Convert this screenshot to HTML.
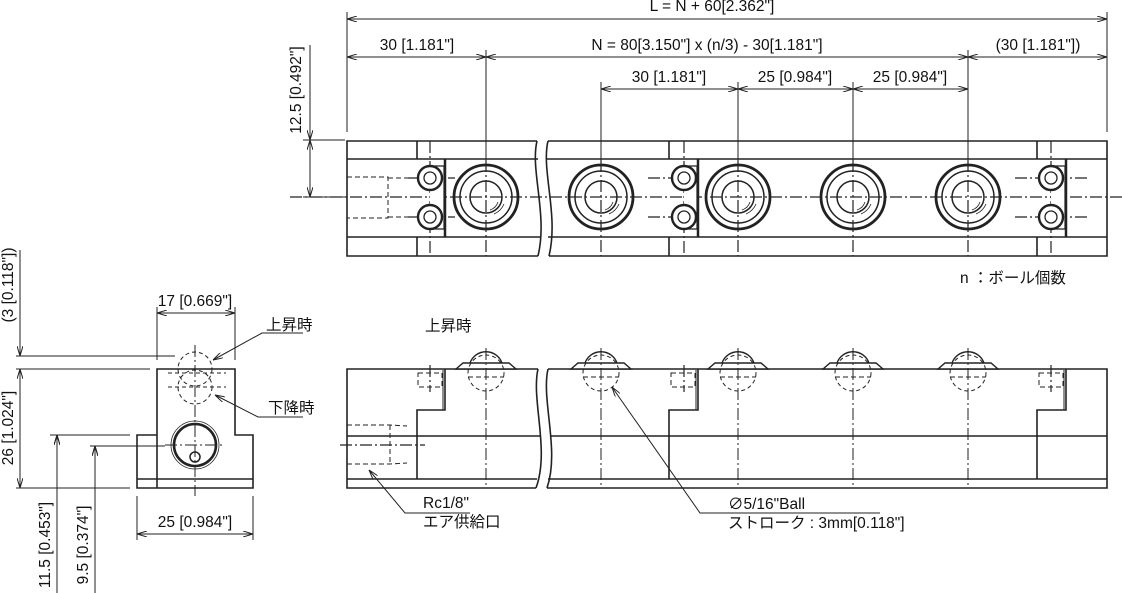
<!DOCTYPE html>
<html><head><meta charset="utf-8"><style>
html,body{margin:0;padding:0;background:#fff;width:1122px;height:593px;overflow:hidden}
svg{display:block}
text{font-family:"Liberation Sans","Noto Sans CJK JP",sans-serif;font-size:15.5px;fill:#111}
</style></head><body>
<svg width="1122" height="593" viewBox="0 0 1122 593" xmlns="http://www.w3.org/2000/svg">
<defs>
<marker id="a" viewBox="0 0 10 6" refX="10" refY="3" markerWidth="10" markerHeight="6" orient="auto-start-reverse" markerUnits="userSpaceOnUse">
<path d="M0,0 L10,3 L0,6" fill="none" stroke="#222" stroke-width="1"/></marker>
</defs>
<g stroke="#222" fill="none" stroke-width="1">
<line x1="347" y1="12" x2="347" y2="132"/><line x1="1107" y1="12" x2="1107" y2="132"/>
<line x1="486" y1="50" x2="486" y2="160"/><line x1="968" y1="50" x2="968" y2="160"/>
<line x1="601" y1="82" x2="601" y2="160"/><line x1="738" y1="82" x2="738" y2="160"/><line x1="853" y1="82" x2="853" y2="160"/>
<line x1="347" y1="19" x2="1107" y2="19" marker-start="url(#a)" marker-end="url(#a)"/>
<line x1="347" y1="57" x2="486" y2="57" marker-start="url(#a)" marker-end="url(#a)"/>
<line x1="486" y1="57" x2="968" y2="57" marker-start="url(#a)" marker-end="url(#a)"/>
<line x1="968" y1="57" x2="1107" y2="57" marker-start="url(#a)" marker-end="url(#a)"/>
<line x1="601" y1="89" x2="738" y2="89" marker-start="url(#a)" marker-end="url(#a)"/>
<line x1="738" y1="89" x2="853" y2="89" marker-start="url(#a)" marker-end="url(#a)"/>
<line x1="853" y1="89" x2="968" y2="89" marker-start="url(#a)" marker-end="url(#a)"/>
<line x1="303" y1="140" x2="345" y2="140"/><line x1="303" y1="197" x2="345" y2="197"/>
<line x1="310" y1="45" x2="310" y2="140" marker-end="url(#a)"/>
<line x1="310" y1="140" x2="310" y2="197" marker-start="url(#a)" marker-end="url(#a)"/>
</g>
<g>
<text x="712" y="11" text-anchor="middle">L = N + 60[2.362"]</text>
<text x="417" y="50" text-anchor="middle">30 [1.181"]</text>
<text x="707" y="50" text-anchor="middle">N = 80[3.150"] x (n/3) - 30[1.181"]</text>
<text x="1038" y="50" text-anchor="middle">(30 [1.181"])</text>
<text x="669" y="82" text-anchor="middle">30 [1.181"]</text>
<text x="795" y="82" text-anchor="middle">25 [0.984"]</text>
<text x="910" y="82" text-anchor="middle">25 [0.984"]</text>
<text transform="translate(301,90) rotate(-90)" text-anchor="middle">12.5 [0.492"]</text>
<text x="960" y="283">n ：ボール個数</text>
</g>
<g stroke="#222" fill="none" stroke-width="1.6">
<path d="M537,141 H347 V256 H538"/><path d="M548,141 H1107 V256 H549"/>
<line x1="347" y1="159" x2="538" y2="159"/><line x1="547" y1="159" x2="1107" y2="159"/>
<line x1="347" y1="237" x2="540" y2="237"/><line x1="548" y1="237" x2="1107" y2="237"/>
<path d="M537,141 C530,170 548,215 538,256"/><path d="M548,141 C541,170 559,215 549,256"/>
<line x1="417" y1="141" x2="417" y2="159"/><line x1="417" y1="237" x2="417" y2="256"/>
<line x1="669" y1="141" x2="669" y2="159"/><line x1="669" y1="237" x2="669" y2="256"/>
<line x1="1037" y1="141" x2="1037" y2="159"/><line x1="1037" y1="237" x2="1037" y2="256"/>
<g stroke-width="2.5"><line x1="445" y1="159" x2="445" y2="237"/><line x1="698" y1="159" x2="698" y2="237"/><line x1="1066" y1="159" x2="1066" y2="237"/></g>
</g>
<g stroke="#222" fill="none" stroke-width="1.2" stroke-dasharray="12,3,2,3">
<line x1="290" y1="197" x2="1122" y2="197"/>
<line x1="430" y1="141" x2="430" y2="256"/><line x1="684" y1="141" x2="684" y2="256"/><line x1="1051" y1="141" x2="1051" y2="256"/>
<line x1="601" y1="160" x2="601" y2="256"/><line x1="738" y1="160" x2="738" y2="256"/><line x1="853" y1="160" x2="853" y2="256"/><line x1="486" y1="160" x2="486" y2="256"/><line x1="968" y1="160" x2="968" y2="256"/>
<line x1="408" y1="178" x2="455" y2="178"/><line x1="408" y1="217" x2="455" y2="217"/>
<line x1="648" y1="178" x2="698" y2="178"/><line x1="648" y1="217" x2="698" y2="217"/>
<line x1="1015" y1="178" x2="1090" y2="178"/><line x1="1015" y1="217" x2="1090" y2="217"/>
</g>
<g stroke="#222" fill="none" stroke-width="1" stroke-dasharray="5,3">
<path d="M347,177 H388 V218 H347 M388,178 L410,178 M388,217 L410,217"/>
</g>
<g stroke="#222" fill="#fff" stroke-width="2.4">
<path d="M430,166 H444 V229 H430" stroke-width="1.2"/>
<path d="M684,166 H697 V229 H684" stroke-width="1.2"/>
<path d="M1051,166 H1065 V229 H1051" stroke-width="1.2"/>
<circle cx="430" cy="178" r="12"/><circle cx="430" cy="217" r="12"/>
<circle cx="684" cy="178" r="12"/><circle cx="684" cy="217" r="12"/>
<circle cx="1051" cy="178" r="12"/><circle cx="1051" cy="217" r="12"/>
<g stroke-width="1.3" fill="none">
<circle cx="430" cy="178" r="6"/><circle cx="430" cy="217" r="6"/>
<circle cx="684" cy="178" r="6"/><circle cx="684" cy="217" r="6"/>
<circle cx="1051" cy="178" r="6"/><circle cx="1051" cy="217" r="6"/></g>
</g>
<g stroke="#222" fill="none">
<g id="b1"><circle cx="486" cy="197" r="32" stroke-width="2.8"/><circle cx="486" cy="197" r="26" stroke-width="1.5"/><circle cx="486" cy="197" r="16" stroke-width="1.5"/><path d="M490,210 q6,-2 8,-8 M492,212 q7,-3 9,-9 M494,214 q7,-3 10,-10" stroke-width="0.8"/></g>
<use href="#b1" x="115"/><use href="#b1" x="252"/><use href="#b1" x="367"/><use href="#b1" x="482"/>
</g>
<g stroke="#222" fill="none" stroke-width="1.6">
<path d="M538,369 H347 V488 H536"/><path d="M548,369 H1107 V488 H547"/>
<line x1="347" y1="436" x2="540" y2="436"/><line x1="551" y1="436" x2="1107" y2="436"/>
<line x1="347" y1="479" x2="537" y2="479"/><line x1="548" y1="479" x2="1107" y2="479"/>
<path d="M538,369 C531,400 550,450 536,488"/><path d="M548,369 C541,400 560,450 547,488"/>
<path d="M445,369 V410 H417 V479"/><path d="M698,369 V410 H669 V479"/><path d="M1066,369 V410 H1037 V479"/>
<g stroke-width="1"><line x1="443" y1="370" x2="443" y2="410"/><line x1="696" y1="370" x2="696" y2="410"/><line x1="1064" y1="370" x2="1064" y2="410"/></g>
</g>
<g stroke="#222" fill="none" stroke-width="1" stroke-dasharray="5,3">
<rect x="418" y="373" width="24" height="14"/><rect x="671" y="373" width="24" height="14"/><rect x="1039" y="373" width="24" height="14"/>
<path d="M347,425 H390 L407,426 M347,464 H390 L407,463 M390,425 V464"/>
</g>
<g stroke="#222" fill="none" stroke-width="1.2" stroke-dasharray="12,3,2,3">
<line x1="340" y1="445" x2="425" y2="445"/>
<line x1="430" y1="365" x2="430" y2="392"/><line x1="684" y1="365" x2="684" y2="392"/><line x1="1051" y1="365" x2="1051" y2="392"/>
</g>
<g stroke="#222" fill="none" stroke-width="1.4">
<g id="sb"><path d="M456,369 L463,363 H509 L516,369 Z" fill="#fff"/><path d="M470,363 A17,17 0 0 1 502,363"/>
<circle cx="486" cy="373" r="18" stroke-width="1" stroke-dasharray="4,3"/>
<line x1="468" y1="377" x2="504" y2="377" stroke-width="1" stroke-dasharray="5,3"/>
<line x1="486" y1="348" x2="486" y2="488" stroke-width="1" stroke-dasharray="12,3,2,3"/></g>
<use href="#sb" x="115"/><use href="#sb" x="252"/><use href="#sb" x="367"/><use href="#sb" x="482"/>
</g>
<g stroke="#222" fill="none" stroke-width="1">
<path d="M369,470 L405,513 H470" marker-start="url(#a)"/>
<path d="M612,387 L700,513 H880" marker-start="url(#a)"/>
</g>
<text x="425" y="331" font-size="13">上昇時</text>
<text x="423" y="508">Rc1/8"</text>
<text x="423" y="527">エア供給口</text>
<text x="728" y="509">∅5/16"Ball</text>
<text x="728" y="528">ストローク : 3mm[0.118"]</text>
<g stroke="#222" fill="none" stroke-width="1.6">
<path d="M157,488 V369 H235 V435 H253 V488 H137 V435 H157"/>
<line x1="137" y1="479" x2="253" y2="479"/>
<circle cx="195" cy="445" r="21" stroke-width="2.6"/><circle cx="195" cy="445" r="24" stroke-width="0.8"/><circle cx="195" cy="457" r="5" stroke-width="1.5"/>
</g>
<g stroke="#222" fill="none" stroke-width="1">
<g stroke-dasharray="4,3"><circle cx="195" cy="369" r="17"/><circle cx="195" cy="387" r="17"/>
<line x1="168" y1="373" x2="226" y2="373"/><line x1="168" y1="387" x2="226" y2="387"/></g>
<line x1="195" y1="345" x2="195" y2="496" stroke-dasharray="12,3,2,3"/>
<line x1="165" y1="445" x2="225" y2="445" stroke-dasharray="12,3,2,3"/>
<line x1="157" y1="307" x2="157" y2="360"/><line x1="235" y1="307" x2="235" y2="360"/>
<line x1="157" y1="313" x2="235" y2="313" marker-start="url(#a)" marker-end="url(#a)"/>
<line x1="137" y1="496" x2="137" y2="540"/><line x1="253" y1="496" x2="253" y2="540"/>
<line x1="137" y1="534" x2="253" y2="534" marker-start="url(#a)" marker-end="url(#a)"/>
<line x1="16" y1="356" x2="175" y2="356"/><line x1="16" y1="369" x2="150" y2="369"/>
<line x1="16" y1="488" x2="130" y2="488"/>
<line x1="50" y1="435" x2="130" y2="435"/><line x1="90" y1="446" x2="165" y2="446"/>
<line x1="20" y1="250" x2="20" y2="356" marker-end="url(#a)"/>
<line x1="20" y1="369" x2="20" y2="488" marker-start="url(#a)" marker-end="url(#a)"/>
<line x1="57" y1="593" x2="57" y2="435" marker-end="url(#a)"/>
<line x1="57" y1="435" x2="57" y2="488" marker-start="url(#a)"/>
<line x1="95" y1="593" x2="95" y2="446" marker-end="url(#a)"/>
<line x1="95" y1="446" x2="95" y2="488" marker-start="url(#a)"/>
<path d="M213,360 L262,333 H303" marker-start="url(#a)"/>
<path d="M215,395 L258,417 H303" marker-start="url(#a)"/>
</g>
<text x="195" y="306" text-anchor="middle">17 [0.669"]</text>
<text x="195" y="527" text-anchor="middle">25 [0.984"]</text>
<text x="266" y="330" font-size="13">上昇時</text>
<text x="268" y="413" font-size="13">下降時</text>
<text transform="translate(13,285) rotate(-90)" text-anchor="middle">(3 [0.118"])</text>
<text transform="translate(13,428) rotate(-90)" text-anchor="middle">26 [1.024"]</text>
<text transform="translate(50,545) rotate(-90)" text-anchor="middle">11.5 [0.453"]</text>
<text transform="translate(88,545) rotate(-90)" text-anchor="middle">9.5 [0.374"]</text>
</svg>
</body></html>
